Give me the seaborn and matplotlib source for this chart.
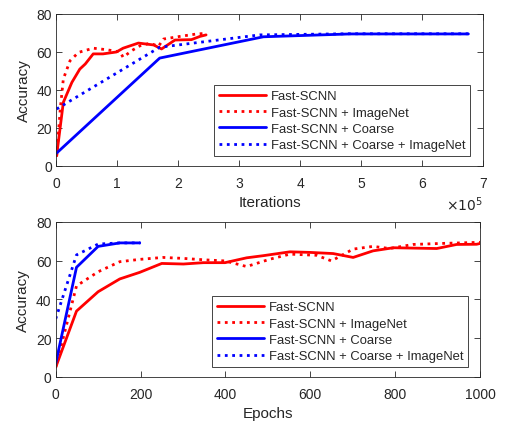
import matplotlib
matplotlib.use("Agg")
import matplotlib.pyplot as plt
import seaborn as sns
import pandas as pd

# ---- Top panel: accuracy vs iterations (x in units of 1e5) ----
it_fast_x = [0.01, 0.12, 0.26, 0.39, 0.48, 0.61, 0.77, 0.99, 1.10, 1.35, 1.60, 1.73, 1.81, 1.95, 2.22, 2.36, 2.46]
it_fast_y = [5.4, 33.5, 44.0, 51.0, 53.7, 59.0, 59.0, 60.0, 62.0, 64.7, 63.7, 61.6, 63.3, 66.3, 66.5, 68.2, 69.0]

it_fast_in_x = [0.01, 0.07, 0.12, 0.23, 0.37, 0.61, 0.83, 1.05, 1.10, 1.24, 1.38, 1.54, 1.68, 1.76, 2.03, 2.31, 2.46]
it_fast_in_y = [5.0, 30.0, 45.8, 55.4, 59.8, 62.0, 61.2, 60.0, 57.2, 60.7, 63.3, 64.6, 63.0, 66.8, 68.2, 69.5, 69.8]

it_coarse_x = [0.01, 1.70, 3.40, 4.82, 6.76]
it_coarse_y = [6.8, 56.8, 68.0, 69.5, 69.5]

it_coarse_in_x = [0.01, 1.70, 3.34, 4.80, 6.76]
it_coarse_in_y = [30.0, 62.5, 69.0, 69.6, 69.6]

# ---- Bottom panel: accuracy vs epochs ----
ep_fast_x = [0, 49, 100, 151, 198, 250, 301, 348, 399, 450, 489, 552, 599, 654, 701, 748, 796, 898, 945, 992, 1000]
ep_fast_y = [5.0, 34.0, 44.0, 50.6, 54.0, 58.6, 58.3, 59.0, 59.0, 61.5, 62.6, 64.6, 64.3, 63.7, 61.7, 65.1, 66.7, 66.3, 68.4, 68.5, 68.9]

ep_fast_in_x = [0, 49, 100, 151, 198, 253, 301, 348, 399, 450, 505, 552, 615, 650, 701, 748, 787, 842, 905, 1000]
ep_fast_in_y = [5.0, 47.0, 54.3, 59.5, 60.7, 61.7, 61.2, 60.5, 59.9, 57.0, 60.8, 63.4, 62.8, 59.9, 66.0, 67.4, 66.3, 68.4, 68.9, 69.5]

ep_coarse_x = [0, 49, 100, 151, 198]
ep_coarse_y = [7.0, 56.6, 67.4, 69.2, 69.2]

ep_coarse_in_x = [0, 49, 100, 151, 200]
ep_coarse_in_y = [30.0, 63.0, 68.6, 69.2, 69.2]

labels = ["Fast-SCNN", "Fast-SCNN + ImageNet", "Fast-SCNN + Coarse", "Fast-SCNN + Coarse + ImageNet"]
colors = ["#ff0000", "#ff0000", "#0000ff", "#0000ff"]
styles = ["-", ":", "-", ":"]

sns.set_style("ticks")
plt.rcParams["font.family"] = ["Liberation Sans", "DejaVu Sans"]
plt.rcParams["xtick.direction"] = "in"
plt.rcParams["ytick.direction"] = "in"

fig = plt.figure(figsize=(5.06, 4.27), dpi=100)
ax1 = fig.add_axes([0.1107, 0.6089, 0.8439, 0.356])
ax2 = fig.add_axes([0.1101, 0.1148, 0.8385, 0.363])

top_series = [(it_fast_x, it_fast_y), (it_fast_in_x, it_fast_in_y),
              (it_coarse_x, it_coarse_y), (it_coarse_in_x, it_coarse_in_y)]
bot_series = [(ep_fast_x, ep_fast_y), (ep_fast_in_x, ep_fast_in_y),
              (ep_coarse_x, ep_coarse_y), (ep_coarse_in_x, ep_coarse_in_y)]

for ax, series, anchor in [(ax1, top_series, (0.9696, 0.0658)),
                           (ax2, bot_series, (0.9717, 0.0645))]:
    for (xs, ys), lab, c, ls in zip(series, labels, colors, styles):
        df = pd.DataFrame({"x": xs, "y": ys})
        sns.lineplot(data=df, x="x", y="y", ax=ax, color=c, linestyle=ls,
                     linewidth=2.0, label=lab, sort=False, estimator=None)
    ax.set_ylim(0, 80)
    ax.set_yticks([0, 20, 40, 60, 80])
    ax.set_ylabel("Accuracy", fontsize=11, color="#262626")
    ax.tick_params(axis="both", which="both", top=True, right=True,
                   direction="in", length=4, width=0.6, labelsize=10,
                   colors="#262626")
    ax.tick_params(axis="x", pad=7.5)
    ax.tick_params(axis="y", pad=3)
    for sp in ax.spines.values():
        sp.set_linewidth(0.6)
        sp.set_color("#262626")
    leg = ax.legend(loc="lower right", bbox_to_anchor=anchor, fontsize=9.4,
                    frameon=True, fancybox=False, edgecolor="#262626",
                    framealpha=1, borderpad=0.35, labelspacing=0.33,
                    handlelength=3.6, handletextpad=0.4, borderaxespad=0)
    leg.get_frame().set_linewidth(0.6)

ax1.set_xlim(0, 7)
ax1.set_xticks(range(0, 8))
ax1.set_xlabel("Iterations", fontsize=11, color="#262626", labelpad=3.5)
ax1.text(1.0, -0.19, r"$\times10^5$", transform=ax1.transAxes, ha="right",
         va="top", fontsize=10, color="#262626", family="DejaVu Sans")

ax2.set_xlim(0, 1000)
ax2.set_xticks([0, 200, 400, 600, 800, 1000])
ax2.set_xlabel("Epochs", fontsize=11, color="#262626", labelpad=3.5)

fig.savefig("out.png", dpi=100)
